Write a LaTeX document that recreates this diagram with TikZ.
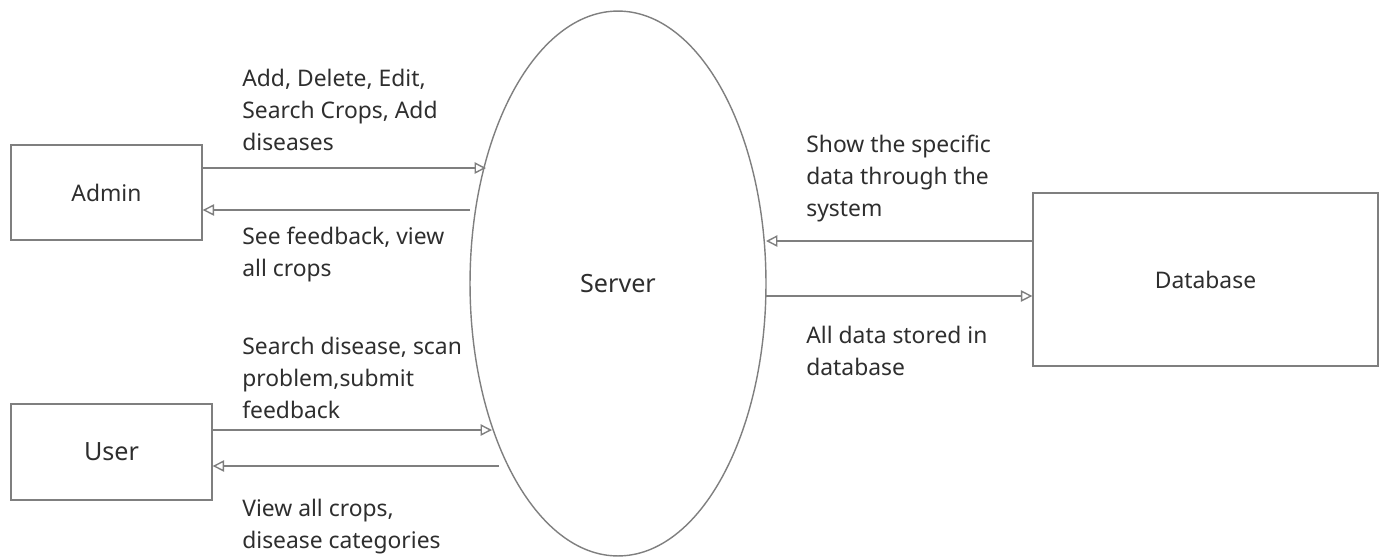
\documentclass[tikz,border=0pt]{standalone}
\usepackage{fontspec}
\setmainfont{Noto Sans}
\usetikzlibrary{arrows.meta, shapes.geometric}
\definecolor{linegray}{HTML}{7F7F7F}
\definecolor{textgray}{HTML}{2E2E2E}
\tikzset{
  entity/.style = {draw=linegray, line width=0.8pt, text=textgray, inner sep=0pt},
  flow/.style   = {draw=linegray, line width=0.8pt, -{Triangle[open, length=6.5pt, width=6.5pt]}},
  note/.style   = {text=textgray, anchor=north west, align=left, inner sep=0pt,
                   font=\fontsize{13}{18.2}\selectfont},
}

\begin{document}
\begin{tikzpicture}[x=0.02cm, y=-0.02cm]
\useasboundingbox (0,0) rectangle (1385,559);

% entities
\node[entity, minimum width=3.82cm, minimum height=1.9cm, font=\fontsize{13}{16}\selectfont] (admin) at (106.5,192.5) {Admin};
\node[entity, minimum width=4.02cm, minimum height=1.92cm, font=\fontsize{14.3}{17}\selectfont] (user) at (111.5,452) {User};
\node[entity, minimum width=6.9cm, minimum height=3.46cm, font=\fontsize{13}{16}\selectfont] (db) at (1205.5,279.5) {Database};
\node[entity, ellipse, minimum width=5.92cm, minimum height=10.9cm, font=\fontsize{14.3}{17}\selectfont] (server) at (618,283.5) {Server};

% ends on the ellipse
\coordinate (s1) at (486,168);
\coordinate (s2) at (470,210);
\coordinate (s3) at (492,430);
\coordinate (s4) at (499,466);
\coordinate (s5) at (766,241);
\coordinate (s6) at (766,296);

% flows
\draw[flow] (admin.east |- s1) -- (s1);
\draw[flow] (s2) -- (admin.east |- s2);
\draw[flow] (user.east |- s3) -- (s3);
\draw[flow] (s4) -- (user.east |- s4);
\draw[flow] (db.west |- s5) -- (s5);
\draw[flow] (s6) -- (db.west |- s6);

% labels
\node[note] (l1) at (242,69)  {Add, Delete, Edit,\\Search Crops, Add\\diseases};
\node[note] (l2) at (242,227) {See feedback, view\\all crops};
\node[note] (l3) at (242,337) {Search disease, scan\\problem,submit\\feedback};
\node[note] (l4) at (242,499) {View all crops,\\disease categories};
\node[note] (l5) at (806,135) {Show the specific\\data through the\\system};
\node[note] (l6) at (806,326) {All data stored in\\database};
\end{tikzpicture}
\end{document}
